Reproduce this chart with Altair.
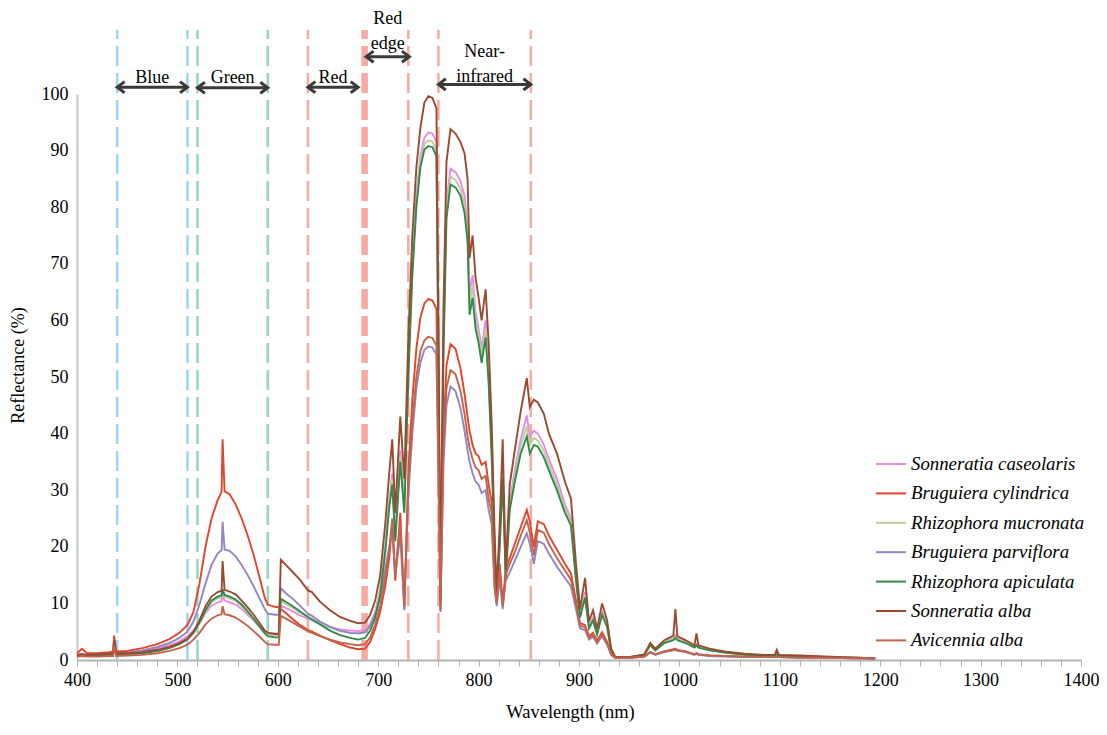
import altair as alt
import pandas as pd

# ---------------- data ----------------
WAVELENGTH = [
    400, 405, 410, 420, 432, 436, 437, 439, 450,
    465, 480, 492, 502, 510, 516, 522, 528, 534, 540,
    544, 545, 547, 552, 558, 564, 570, 576, 582, 587,
    590, 597, 601, 603, 608, 615, 622, 630, 634, 642,
    652, 662, 672, 680, 687, 692, 697, 702, 707, 711,
    714, 717, 722, 726, 730, 734, 738, 742, 746, 750,
    754, 758, 760, 762, 765, 768, 772, 777, 782, 786,
    789, 791, 794, 797, 800, 803, 807, 810, 813, 816,
    818, 821, 824, 827, 831, 836, 842, 848, 851, 855,
    859, 865, 870, 878, 886, 892, 897, 901, 906, 910,
    914, 918, 923, 928, 932, 936, 950, 965, 971, 976,
    985, 994, 996, 998, 1006, 1015, 1017, 1019, 1030, 1045,
    1065, 1085, 1095, 1097, 1099, 1120, 1150, 1175, 1195,
]

S_CASEOLARIS = [
    0.8, 0.9, 0.8, 0.9, 1.0, 1.1, 3.0, 1.1, 1.2,
    1.5, 2.0, 2.6, 3.3, 4.2, 5.2, 6.5, 8.3, 9.6, 10.2,
    10.4, 11.5, 10.5, 10.2, 9.8, 9.0, 8.0, 7.0, 5.8, 5.0,
    4.8, 4.7, 4.7, 9.6, 9.2, 8.6, 7.9, 7.3, 7.0, 6.4,
    5.8, 5.4, 5.2, 5.1, 5.3, 6.4, 8.5, 12.5, 20.0, 28.0,
    33.0, 22.0, 37.0, 28.0, 52.0, 70.0, 82.0, 89.0, 92.3, 93.2,
    93.0, 91.5, 55.0, 10.5, 57.0, 81.0, 86.8, 86.2, 84.6, 82.0,
    77.0, 65.0, 68.0, 61.5, 58.5, 55.0, 60.0, 51.5, 38.0, 20.0,
    11.0, 21.0, 34.0, 15.0, 28.0, 33.5, 39.0, 43.2, 39.5, 40.5,
    40.0, 38.0, 35.5, 32.0, 27.5, 25.0, 15.0, 8.0, 12.0, 6.0,
    7.5, 4.9, 8.5, 6.2, 1.8, 0.5, 0.5, 0.9, 2.8, 1.8,
    3.2, 3.9, 4.4, 3.9, 3.2, 2.4, 2.8, 2.4, 1.8, 1.4,
    1.0, 0.8, 0.8, 1.1, 0.8, 0.7, 0.5, 0.4, 0.3,
]

B_CYLINDRICA = [
    1.2, 2.0, 1.2, 1.2, 1.4, 1.5, 4.3, 1.5, 1.6,
    2.1, 2.8, 3.7, 4.8, 6.2, 8.5, 13.5, 20.0, 25.0, 28.2,
    29.7, 39.0, 29.8, 29.3, 27.5, 25.0, 22.0, 18.5, 14.5, 11.0,
    9.8, 9.4, 9.3, 9.0, 8.3, 7.2, 6.2, 5.3, 5.0, 4.3,
    3.5, 2.8, 2.2, 1.9, 2.0, 3.2, 5.5, 8.5, 13.0, 18.0,
    24.0, 14.0, 26.0, 9.0, 33.0, 46.0, 55.0, 60.5, 63.0, 63.8,
    63.5, 62.0, 38.0, 9.0, 40.0, 52.0, 55.8, 55.0, 51.5, 47.0,
    43.0, 40.5, 38.0, 36.5, 36.0, 34.5, 35.0, 31.0, 28.0, 14.0,
    11.0, 17.0, 10.0, 16.0, 18.0, 20.5, 23.5, 26.5, 24.5, 20.0,
    24.5, 24.0, 22.0, 19.5, 17.0, 15.3, 10.5, 6.5, 6.2, 4.2,
    4.8, 3.4, 4.9, 3.2, 1.0, 0.4, 0.4, 0.6, 1.4, 1.0,
    1.5, 1.9, 2.0, 1.8, 1.5, 1.0, 1.2, 1.0, 0.8, 0.7,
    0.6, 0.5, 0.5, 0.7, 0.5, 0.5, 0.4, 0.3, 0.3,
]

R_MUCRONATA = [
    0.8, 0.8, 0.8, 0.8, 0.9, 1.0, 2.9, 1.0, 1.1,
    1.3, 1.7, 2.2, 2.9, 3.7, 4.9, 6.6, 8.6, 10.2, 10.9,
    11.1, 12.0, 11.2, 10.9, 10.4, 9.5, 8.4, 7.2, 5.9, 4.9,
    4.5, 4.4, 4.4, 10.4, 9.9, 9.2, 8.4, 7.6, 7.2, 6.5,
    5.7, 5.1, 4.8, 4.7, 4.9, 6.1, 8.2, 12.2, 19.5, 27.5,
    32.0, 21.5, 36.0, 27.0, 51.0, 69.0, 81.0, 88.0, 91.2, 91.8,
    91.6, 90.0, 53.0, 10.2, 55.0, 79.5, 85.4, 84.8, 83.2, 80.5,
    75.5, 63.0, 66.0, 60.0, 57.2, 53.8, 58.5, 50.2, 37.0, 19.5,
    10.8, 20.5, 33.0, 14.8, 27.2, 32.5, 37.8, 41.3, 38.0, 39.2,
    38.8, 36.9, 34.5, 31.0, 26.8, 24.4, 14.5, 7.8, 11.5, 5.8,
    7.2, 4.7, 8.2, 6.0, 1.7, 0.5, 0.5, 0.9, 2.7, 1.8,
    3.1, 3.7, 4.1, 3.7, 3.1, 2.3, 2.7, 2.3, 1.8, 1.3,
    1.0, 0.8, 0.8, 1.0, 0.8, 0.7, 0.5, 0.4, 0.3,
]

B_PARVIFLORA = [
    0.9, 1.1, 0.9, 1.0, 1.1, 1.2, 3.6, 1.2, 1.3,
    1.7, 2.3, 3.0, 3.9, 5.0, 6.8, 9.8, 13.5, 16.8, 18.8,
    19.4, 24.4, 19.5, 19.3, 18.3, 16.8, 15.0, 13.0, 10.8, 9.0,
    8.2, 8.0, 8.0, 12.7, 11.8, 10.8, 9.6, 8.2, 7.8, 6.8,
    5.9, 5.2, 4.8, 4.7, 4.9, 6.0, 8.0, 11.0, 16.0, 20.0,
    23.0, 15.0, 22.0, 8.8, 29.0, 40.0, 48.0, 52.5, 54.8, 55.4,
    55.2, 54.0, 33.0, 8.5, 35.0, 45.0, 48.3, 47.5, 44.5, 40.5,
    37.0, 35.0, 33.0, 31.5, 31.0, 29.5, 30.0, 26.5, 24.0, 12.5,
    9.5, 14.5, 9.0, 14.0, 15.5, 17.5, 20.0, 22.4, 20.5, 17.0,
    21.0, 20.5, 18.8, 16.5, 14.5, 13.0, 9.0, 5.6, 5.3, 3.6,
    4.1, 2.9, 4.2, 2.7, 0.9, 0.4, 0.4, 0.6, 1.3, 0.9,
    1.4, 1.7, 1.8, 1.6, 1.4, 0.9, 1.1, 0.9, 0.7, 0.6,
    0.5, 0.5, 0.5, 0.6, 0.5, 0.4, 0.4, 0.3, 0.2,
]

R_APICULATA = [
    0.7, 0.8, 0.7, 0.8, 0.9, 0.9, 2.8, 0.9, 1.0,
    1.2, 1.6, 2.1, 2.8, 3.6, 4.8, 6.6, 8.8, 10.5, 11.2,
    11.4, 12.5, 11.5, 11.2, 10.7, 9.8, 8.6, 7.3, 5.9, 4.7,
    4.2, 4.0, 4.0, 10.8, 10.3, 9.5, 8.6, 7.6, 7.2, 6.3,
    5.2, 4.4, 3.9, 3.6, 3.9, 5.2, 7.5, 11.5, 19.0, 27.0,
    31.0, 21.0, 35.0, 26.0, 50.0, 68.0, 80.0, 87.0, 90.2, 90.8,
    90.6, 89.0, 52.0, 10.0, 54.0, 78.0, 84.0, 83.5, 82.0, 79.0,
    74.0, 61.0, 64.0, 58.5, 56.0, 52.5, 57.0, 49.0, 36.0, 19.0,
    10.5, 20.0, 32.0, 14.5, 26.5, 31.5, 36.5, 39.5, 36.5, 38.0,
    37.7, 35.8, 33.5, 30.0, 26.0, 23.8, 14.0, 7.5, 11.0, 5.6,
    7.0, 4.5, 8.0, 5.8, 1.6, 0.5, 0.5, 0.9, 2.6, 1.7,
    3.0, 3.5, 3.9, 3.5, 3.0, 2.2, 2.6, 2.2, 1.7, 1.3,
    0.9, 0.8, 0.8, 1.0, 0.8, 0.6, 0.5, 0.4, 0.3,
]

S_ALBA = [
    0.9, 1.0, 0.9, 1.0, 1.1, 1.2, 3.5, 1.2, 1.2,
    1.4, 1.8, 2.3, 3.0, 3.8, 5.0, 7.0, 9.5, 11.2, 12.0,
    12.2, 17.5, 12.4, 12.1, 11.6, 10.5, 9.3, 8.0, 6.5, 5.2,
    4.8, 4.6, 4.6, 17.7, 16.8, 15.5, 14.2, 12.3, 12.0, 10.3,
    8.8, 7.6, 6.9, 6.5, 6.6, 8.0, 10.5, 15.0, 24.0, 33.0,
    39.0, 26.0, 43.0, 32.0, 57.0, 75.0, 87.0, 94.0, 98.5, 99.6,
    99.3, 97.5, 60.0, 11.0, 62.0, 88.0, 93.8, 93.0, 91.5, 89.5,
    85.0, 71.0, 75.0, 67.5, 64.0, 60.0, 65.5, 56.0, 42.0, 22.0,
    12.0, 24.0, 39.0, 16.0, 31.0, 37.0, 44.0, 49.8, 44.7, 46.0,
    45.5, 43.5, 40.0, 36.5, 31.5, 28.5, 17.0, 9.0, 14.5, 6.8,
    8.8, 5.5, 10.0, 7.0, 2.0, 0.6, 0.5, 1.0, 3.0, 2.0,
    3.5, 4.3, 9.0, 4.2, 3.5, 2.6, 4.7, 2.6, 2.0, 1.5,
    1.1, 0.9, 0.9, 1.8, 0.9, 0.8, 0.6, 0.4, 0.3,
]

A_ALBA = [
    0.6, 0.7, 0.6, 0.6, 0.7, 0.7, 2.5, 0.7, 0.8,
    0.9, 1.2, 1.6, 2.1, 2.7, 3.6, 4.8, 6.3, 7.3, 7.9,
    8.1, 9.5, 8.1, 7.9, 7.5, 6.8, 6.0, 5.1, 4.1, 3.2,
    2.8, 2.7, 2.7, 7.8, 7.3, 6.6, 5.9, 5.1, 4.8, 4.2,
    3.6, 3.1, 2.8, 2.6, 2.8, 4.0, 6.3, 9.5, 14.5, 19.5,
    25.0, 15.0, 24.0, 9.5, 31.0, 42.0, 50.0, 54.5, 56.5, 57.1,
    56.9, 55.5, 34.0, 8.8, 37.0, 48.0, 51.2, 50.5, 47.5, 43.5,
    39.5, 37.5, 35.5, 34.0, 33.5, 32.0, 32.5, 28.5, 26.0, 13.0,
    10.0, 16.0, 9.5, 15.0, 17.0, 19.0, 22.0, 24.7, 22.5, 18.5,
    23.0, 22.5, 20.5, 18.0, 15.8, 14.2, 9.8, 6.0, 5.8, 3.9,
    4.5, 3.1, 4.6, 3.0, 1.0, 0.4, 0.4, 0.6, 1.4, 1.0,
    1.5, 1.8, 1.9, 1.7, 1.5, 1.0, 1.1, 1.0, 0.8, 0.7,
    0.6, 0.5, 0.5, 0.6, 0.5, 0.4, 0.4, 0.3, 0.3,
]

SPECIES = [
    "Sonneratia caseolaris", "Bruguiera cylindrica", "Rhizophora mucronata",
    "Bruguiera parviflora", "Rhizophora apiculata", "Sonneratia alba",
    "Avicennia alba",
]
SERIES = [S_CASEOLARIS, B_CYLINDRICA, R_MUCRONATA, B_PARVIFLORA,
          R_APICULATA, S_ALBA, A_ALBA]

# band boundaries (nm)
BAND_LINE_WL = [440, 510, 520, 590, 630, 685, 688, 730, 760, 852]
BAND_LINE_KIND = ["blue", "blue", "green", "green", "red", "red", "red",
                  "red", "red", "red"]
BAND_NAMES = ["Blue", "Green", "Red", "Red\nedge", "Near-\ninfrared"]
BAND_START = [440, 520, 630, 688, 760]
BAND_END = [510, 590, 680, 731, 852]

# ---------------- styling ----------------
COLORS = ["#e98ae6", "#e5432b", "#bfcc9c", "#9186c0", "#2f8a4c",
          "#9a4a2f", "#c2644c"]
LINE_COLORS = {"blue": "#9dd5ef", "green": "#98d6bb", "red": "#f7aaa2"}
ARROW_Y = [101.2, 101.1, 101.2, 106.6, 101.7]
LABEL_Y = [102.9, 102.9, 102.9, 113.3, 107.5]
FONT = "Liberation Serif"

for s in SERIES:
    assert len(s) == len(WAVELENGTH), len(s)

rows = []
for name, vals in zip(SPECIES, SERIES):
    for w, v in zip(WAVELENGTH, vals):
        rows.append({"wl": w, "refl": v, "species": name})
spectra = pd.DataFrame(rows)

lines_df = pd.DataFrame({
    "wl": BAND_LINE_WL,
    "c": [LINE_COLORS[k] for k in BAND_LINE_KIND],
    "w": [3.5 if 684 <= w <= 690 else 2.5 for w in BAND_LINE_WL],
})
bands_df = pd.DataFrame({
    "name": BAND_NAMES,
    "x1": BAND_START,
    "x2": BAND_END,
    "xm": [(a + b) / 2 for a, b in zip(BAND_START, BAND_END)],
    "ay": ARROW_Y,
    "ly": LABEL_Y,
})

xs = alt.Scale(domain=[400, 1400], nice=False)
ys = alt.Scale(domain=[0, 100], nice=False)

x_axis = alt.Axis(
    values=list(range(400, 1401, 20)),
    labelExpr="datum.value % 100 === 0 ? datum.label : ''",
    format="d", title="Wavelength (nm)",
)
y_axis = alt.Axis(
    values=list(range(0, 101, 10)), title="Reflectance (%)",
)

dashed = alt.Chart(lines_df).mark_rule(strokeDash=[20, 7]).encode(
    x=alt.X("wl:Q", scale=xs, axis=x_axis),
    y=alt.Y(datum=0, scale=ys, axis=y_axis),
    y2=alt.datum(111.3),
    stroke=alt.Stroke("c:N", scale=None),
    strokeWidth=alt.StrokeWidth("w:Q", scale=None),
)

curves = alt.Chart(spectra).mark_line(strokeWidth=1.9).encode(
    x=alt.X("wl:Q", scale=xs, axis=x_axis),
    y=alt.Y("refl:Q", scale=ys, axis=y_axis),
    color=alt.Color(
        "species:N",
        scale=alt.Scale(domain=SPECIES, range=COLORS),
        sort=SPECIES,
        legend=alt.Legend(
            orient="none", legendX=798, legendY=354, title=None,
            symbolType="stroke", symbolSize=900, symbolStrokeWidth=2,
            labelFont=FONT, labelFontStyle="italic", labelFontSize=18.8,
            labelColor="black", labelOffset=4, rowPadding=3.4, padding=0,
            labelLimit=0,
        ),
    ),
    order=alt.Order("wl:Q"),
    detail="species:N",
)

arrow_line = alt.Chart(bands_df).mark_rule(strokeWidth=3, color="#3a3a3a").encode(
    x=alt.X("x1:Q", scale=xs, axis=x_axis),
    x2="x2:Q",
    y=alt.Y("ay:Q", scale=ys, axis=y_axis),
)
head_left = alt.Chart(bands_df).mark_point(
    shape="M 1 -0.75 L 0 0 L 1 0.75", filled=False, size=220,
    strokeWidth=3, color="#3a3a3a", opacity=1,
).encode(
    x=alt.X("x1:Q", scale=xs, axis=x_axis),
    y=alt.Y("ay:Q", scale=ys, axis=y_axis),
)
head_right = alt.Chart(bands_df).mark_point(
    shape="M -1 -0.75 L 0 0 L -1 0.75", filled=False, size=220,
    strokeWidth=3, color="#3a3a3a", opacity=1,
).encode(
    x=alt.X("x2:Q", scale=xs, axis=x_axis),
    y=alt.Y("ay:Q", scale=ys, axis=y_axis),
)
labels = alt.Chart(bands_df).mark_text(
    font=FONT, fontSize=18, color="black", lineBreak="\n", lineHeight=25,
    baseline="middle", align="center",
).encode(
    x=alt.X("xm:Q", scale=xs, axis=x_axis),
    y=alt.Y("ly:Q", scale=ys, axis=y_axis),
    text="name:N",
)

chart = alt.layer(
    dashed, curves, arrow_line, head_left, head_right, labels
).properties(
    width=1004, height=566,
    background="white",
    autosize=alt.AutoSizeParams(type="none"),
    padding={"left": 69, "top": 86, "right": 18, "bottom": 63},
).configure_view(
    stroke=None
).configure_axis(
    labelFont=FONT, titleFont=FONT, labelColor="black", titleColor="black",
    labelFontSize=18, titleFontSize=18, titleFontWeight="normal", grid=False,
    domainWidth=2,
).configure_axisX(
    tickSize=6, tickColor="#b4b4b4", tickWidth=1, domainColor="#b4b4b4",
    labelPadding=5, titlePadding=13, labelFlush=False, labelOverlap=False,
    titleFontSize=18.5, titleX=493,
).configure_axisY(
    ticks=False, domainColor="#c6c6c6", labelPadding=9, titlePadding=14,
    titleY=271,
)

chart.save("out.html", embed_options={"renderer": "svg", "actions": False})
